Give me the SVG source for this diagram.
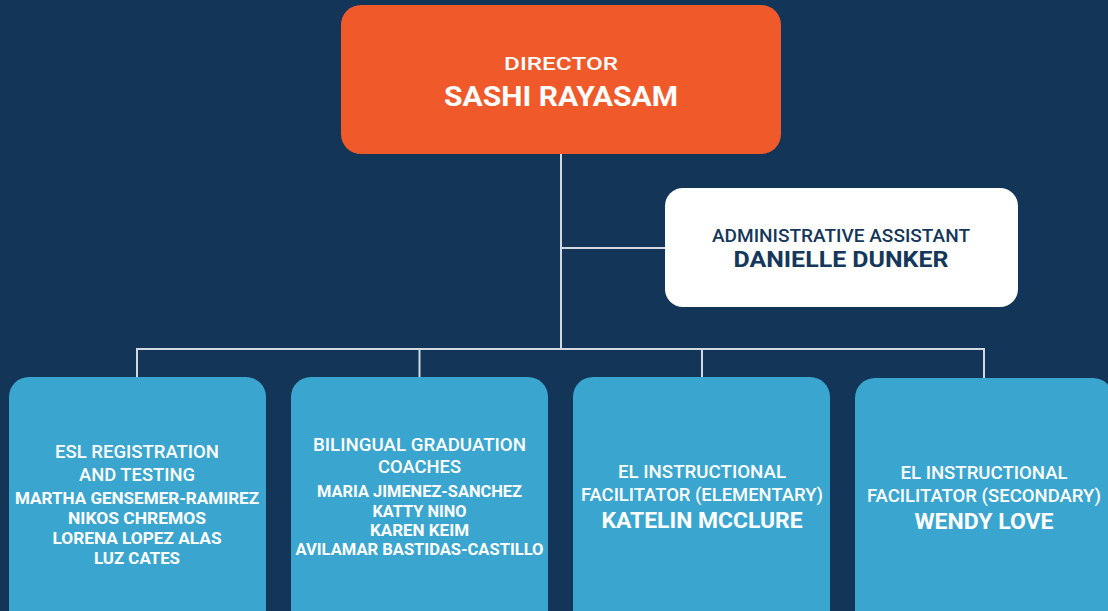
<svg xmlns="http://www.w3.org/2000/svg" width="1108" height="611" viewBox="0 0 1108 611">
  <style>
    .bg { fill: #133658; }
    .link { fill: none; stroke: #d2d9e1; stroke-width: 2; }
    .director { fill: #f05a2b; }
    .assistant { fill: #ffffff; }
    .team { fill: #3aa6cf; }
    text { font-family: Roboto, "Liberation Sans", sans-serif; text-anchor: middle; }
    .role { font-weight: 500; fill: #ffffff; font-size: 18.5px; }
    .name { font-weight: 700; fill: #ffffff; font-size: 17px; }
    .lead { font-weight: 700; fill: #ffffff; }
    .dark { fill: #14375a; }
  </style>
  <rect class="bg" x="0" y="0" width="1108" height="611"/>

  <g id="connectors">
    <path class="link" d="M561 154 V349"/>
    <path class="link" d="M561 248 H665"/>
    <path class="link" d="M137 378 V349 H984 V378"/>
    <path class="link" d="M419.5 349 V378"/>
    <path class="link" d="M702 349 V378"/>
  </g>

  <g id="director">
    <rect class="director" x="341" y="5" width="440" height="149" rx="20"/>
    <text class="role" x="561" y="70" font-size="23.5" textLength="114" lengthAdjust="spacingAndGlyphs">DIRECTOR</text>
    <text class="lead" x="561" y="106" font-size="28" textLength="234" lengthAdjust="spacingAndGlyphs">SASHI RAYASAM</text>
  </g>

  <g id="admin-assistant">
    <rect class="assistant" x="665" y="188" width="353" height="119" rx="18"/>
    <text class="role dark" x="841" y="242" font-size="19.5" textLength="258" lengthAdjust="spacingAndGlyphs">ADMINISTRATIVE ASSISTANT</text>
    <text class="lead dark" x="841" y="267" font-size="21.5" textLength="215" lengthAdjust="spacingAndGlyphs">DANIELLE DUNKER</text>
  </g>

  <g id="esl-registration">
    <rect class="team" x="9" y="377" width="257" height="260" rx="20"/>
    <text class="role" x="137" y="458" textLength="164" lengthAdjust="spacingAndGlyphs">ESL REGISTRATION</text>
    <text class="role" x="137" y="481" textLength="116" lengthAdjust="spacingAndGlyphs">AND TESTING</text>
    <text class="name" x="137" y="504" textLength="244" lengthAdjust="spacingAndGlyphs">MARTHA GENSEMER-RAMIREZ</text>
    <text class="name" x="137" y="524" textLength="138" lengthAdjust="spacingAndGlyphs">NIKOS CHREMOS</text>
    <text class="name" x="137" y="544" textLength="169" lengthAdjust="spacingAndGlyphs">LORENA LOPEZ ALAS</text>
    <text class="name" x="137" y="564" textLength="86" lengthAdjust="spacingAndGlyphs">LUZ CATES</text>
  </g>

  <g id="graduation-coaches">
    <rect class="team" x="291" y="377" width="257" height="260" rx="20"/>
    <text class="role" x="419.5" y="451" textLength="213" lengthAdjust="spacingAndGlyphs">BILINGUAL GRADUATION</text>
    <text class="role" x="419.5" y="473" textLength="83" lengthAdjust="spacingAndGlyphs">COACHES</text>
    <text class="name" x="419.5" y="497" textLength="205" lengthAdjust="spacingAndGlyphs">MARIA JIMENEZ-SANCHEZ</text>
    <text class="name" x="419.5" y="517" textLength="94" lengthAdjust="spacingAndGlyphs">KATTY NINO</text>
    <text class="name" x="419.5" y="536" textLength="99" lengthAdjust="spacingAndGlyphs">KAREN KEIM</text>
    <text class="name" x="419.5" y="555" textLength="248" lengthAdjust="spacingAndGlyphs">AVILAMAR BASTIDAS-CASTILLO</text>
  </g>

  <g id="facilitator-elementary">
    <rect class="team" x="573" y="377" width="257" height="260" rx="20"/>
    <text class="role" x="702" y="478" textLength="168" lengthAdjust="spacingAndGlyphs">EL INSTRUCTIONAL</text>
    <text class="role" x="702" y="501" textLength="242" lengthAdjust="spacingAndGlyphs">FACILITATOR (ELEMENTARY)</text>
    <text class="lead" x="702" y="528" font-size="22" textLength="201" lengthAdjust="spacingAndGlyphs">KATELIN MCCLURE</text>
  </g>

  <g id="facilitator-secondary">
    <rect class="team" x="855" y="378" width="258" height="260" rx="20"/>
    <text class="role" x="984" y="479" textLength="167" lengthAdjust="spacingAndGlyphs">EL INSTRUCTIONAL</text>
    <text class="role" x="984" y="502" textLength="234" lengthAdjust="spacingAndGlyphs">FACILITATOR (SECONDARY)</text>
    <text class="lead" x="984" y="529" font-size="22" textLength="139" lengthAdjust="spacingAndGlyphs">WENDY LOVE</text>
  </g>
</svg>
